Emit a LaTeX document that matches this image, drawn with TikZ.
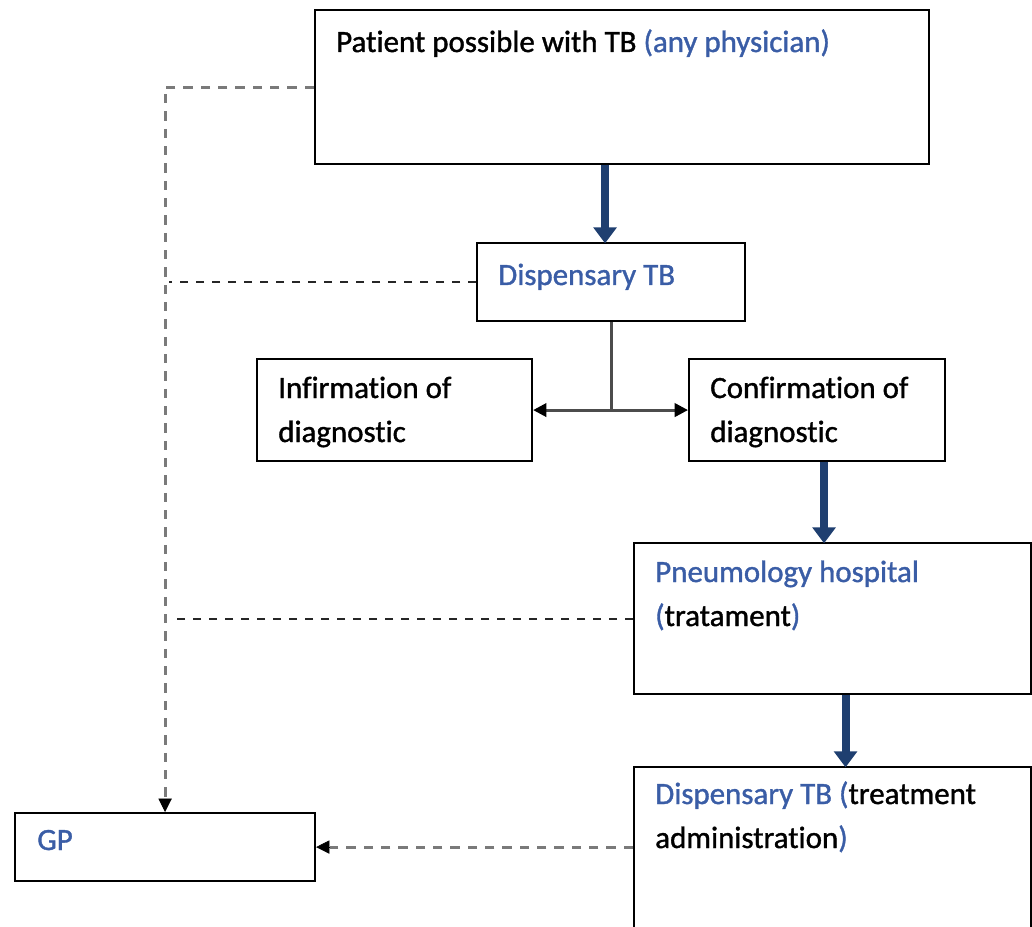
\documentclass[tikz,border=0pt]{standalone}
\usepackage{fontspec}
\setmainfont{Carlito}[Ligatures=NoCommon, FakeBold=1.2]
\usetikzlibrary{arrows.meta,calc}

\definecolor{txtblue}{HTML}{3A5DA6}
\definecolor{flowblue}{HTML}{1F3F70}
\definecolor{dashgray}{HTML}{7A7A7A}

\tikzset{
  box/.style={draw=black, line width=1.6pt, anchor=north west, inner sep=0pt},
  boxtext/.style={anchor=base west, align=left, inner sep=0pt,
    font=\fontsize{23.2}{33}\selectfont},
  flow/.style={flowblue, line width=6pt, -{Triangle[width=17pt,length=12pt]}, shorten >=-1pt},
  fork/.style={black!70, line width=2.2pt},
  forkarrow/.style={fork, -{Triangle[width=10pt,length=10pt,color=black]}},
  lightdash/.style={dashgray, line width=2.2pt, dash pattern=on 7pt off 6pt},
  darkdash/.style={black!85, line width=1.6pt, dash pattern=on 6pt off 6pt},
  tip/.style={-{Triangle[width=10pt,length=10pt,color=black]}}
}

\begin{document}
\begin{tikzpicture}[x=0.75pt,y=-0.75pt]
    \useasboundingbox (0,0) rectangle (1032,927);

    % Boxes
    \node[box, minimum width=614*0.75pt, minimum height=154*0.75pt] (patient) at (314,9) {};
    \node[box, minimum width=268*0.75pt, minimum height=78*0.75pt] (disp) at (476,242) {};
    \node[box, minimum width=275*0.75pt, minimum height=102*0.75pt] (infirm) at (256,358) {};
    \node[box, minimum width=256*0.75pt, minimum height=102*0.75pt] (confirm) at (688,358) {};
    \node[box, minimum width=397*0.75pt, minimum height=151*0.75pt] (pneumo) at (633,542) {};
    \node[box, minimum width=397*0.75pt, minimum height=162*0.75pt] (disptreat) at (633,766) {};
    \node[box, minimum width=300*0.75pt, minimum height=68*0.75pt] (gp) at (14,812) {};

    % Texts (anchored at the baseline of the last line)
    \node[boxtext] (patienttxt) at ($(patient.north west)+(22,43)$) {Patient possible with TB \textcolor{txtblue}{(any physician)}};
    \node[boxtext, text=txtblue] (disptxt) at ($(disp.north west)+(22,43)$) {Dispensary TB};
    \node[boxtext] (infirmtxt) at ($(infirm.north west)+(22,84)$) {Infirmation of\\diagnostic};
    \node[boxtext] (confirmtxt) at ($(confirm.north west)+(22,84)$) {Confirmation of\\diagnostic};
    \node[boxtext] (pneumotxt) at ($(pneumo.north west)+(22,84)$) {\textcolor{txtblue}{Pneumology hospital}\\\textcolor{txtblue}{(}tratament\textcolor{txtblue}{)}};
    \node[boxtext] (disptreattxt) at ($(disptreat.north west)+(22,82)$) {\textcolor{txtblue}{Dispensary TB (}treatment\\administration\textcolor{txtblue}{)}};
    \node[boxtext, text=txtblue] (gptxt) at ($(gp.north west)+(23,38)$) {GP};

    % Main flow
    \draw[flow] ($(patient.south)+(-17,0)$) coordinate (a1) -- (a1 |- disp.north);
    \coordinate (split) at (disp.south |- infirm.east);
    \draw[fork] (disp.south) -- (split);
    \draw[forkarrow] (split) -- (infirm.east);
    \draw[forkarrow] (split) -- (confirm.west);
    \draw[flow] ($(confirm.south)+(7,0)$) coordinate (a2) -- (a2 |- pneumo.north);
    \draw[flow] ($(pneumo.south)+(13,0)$) coordinate (a3) -- (a3 |- disptreat.north);

    % Links to the GP
    \draw[lightdash] (patient.west) -| ($(gp.north)+(0,-12)$) coordinate (gptop);
    \draw[tip] (gptop) -- (gp.north);
    \draw[darkdash] (disp.west) -- ($(disp.west -| gp.north)+(4,0)$);
    \draw[darkdash] (pneumo.west) -- ($(pneumo.west -| gp.north)+(4,0)$);
    \draw[lightdash] (disptreat.west |- gp.east) -- ($(gp.east)+(14,0)$) coordinate (gpright);
    \draw[tip] (gpright) -- (gp.east);
\end{tikzpicture}
\end{document}
